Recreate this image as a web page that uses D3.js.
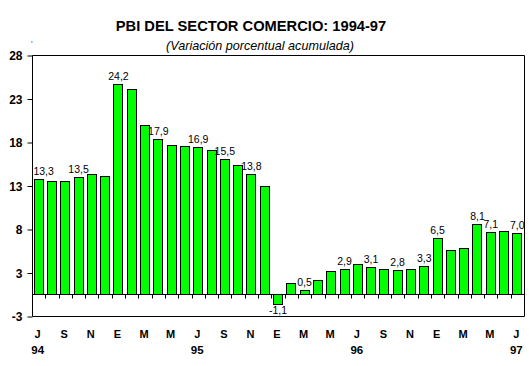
<!DOCTYPE html>
<html>
<head>
<meta charset="utf-8">
<script src="https://cdn.jsdelivr.net/npm/d3@7"></script>
<style>
  html, body { margin: 0; padding: 0; background: #fff; }
  svg { display: block; }
</style>
</head>
<body>
<svg id="chart" width="529" height="366"></svg>
<script>
// ---- data ----
const months = ["J","A","S","O","N","D","E","F","M","A","M","J",
                "J","A","S","O","N","D","E","F","M","A","M","J",
                "J","A","S","O","N","D","E","F","M","A","M","J","J"];
const years = ["94","","","","","","","","","","","",
               "95","","","","","","","","","","","",
               "96","","","","","","","","","","","",
               "97"];
const values = [13.3, 13.0, 13.0, 13.5, 13.8, 13.6,
                24.2, 23.6, 19.5, 17.9, 17.2, 17.0,
                16.9, 16.6, 15.5, 14.9, 13.8, 12.4,
                -1.1, 1.3, 0.5, 1.6, 2.7, 2.9,
                3.5, 3.1, 2.9, 2.8, 2.9, 3.3,
                6.5, 5.1, 5.3, 8.1, 7.1, 7.3, 7.0];
const labeledIdx = [0, 3, 6, 9, 12, 14, 16, 18, 20, 23, 25, 27, 29, 30, 33, 34, 36];
const yTickValues = [-2.5, 2.5, 7.5, 12.5, 17.5, 22.5, 27.5];
const yTickLabels = ["-3", "3", "8", "13", "18", "23", "28"];
const title = "PBI DEL SECTOR COMERCIO: 1994-97";
const subtitle = "(Variación porcentual acumulada)";

// ---- layout ----
const L = 32, R = 524, T = 55, B = 316;
const svg = d3.select("#chart");
const idx = d3.range(values.length);

const x = d3.scaleBand().domain(idx).range([L, R]).paddingInner(0.25).paddingOuter(0.125);
const y = d3.scaleLinear().domain([-2.5, 27.5]).range([B, T]);
const step = x.step();
const x0 = d3.scaleBand().domain(idx).range([L, R]); // full bands for boundaries

// title
svg.append("text").attr("x", 251).attr("y", 31).attr("text-anchor", "middle")
  .attr("font-family", "Liberation Sans, Arial, sans-serif").attr("font-weight", "bold")
  .attr("font-size", 14.7).text(title);
svg.append("text").attr("x", 260).attr("y", 50).attr("text-anchor", "middle")
  .attr("font-family", "Liberation Sans, Arial, sans-serif").attr("font-style", "italic")
  .attr("font-size", 12.6).text(subtitle);
svg.append("text").attr("x", 31).attr("y", 46)
  .attr("font-family", "Liberation Sans, Arial, sans-serif").attr("font-size", 8).text("‘");

// bars
svg.append("g").selectAll("rect").data(idx).join("rect")
  .attr("x", i => Math.round(x(i)) + 0.5)
  .attr("width", Math.round(x.bandwidth()) - 1)
  .attr("y", i => Math.round(y(Math.max(0, values[i]))) + 0.5)
  .attr("height", i => Math.abs(Math.round(y(values[i])) - Math.round(y(0))))
  .attr("fill", "#00ff00").attr("stroke", "#000").attr("stroke-width", 1);

// frame
const y0 = Math.round(y(0)) + 0.5;
const g = svg.append("g").attr("stroke", "#000").attr("stroke-width", 1).attr("fill", "none");
g.append("line").attr("x1", L + 0.5).attr("x2", R + 0.5).attr("y1", T + 0.5).attr("y2", T + 0.5);
g.append("line").attr("x1", R + 0.5).attr("x2", R + 0.5).attr("y1", T + 0.5).attr("y2", B + 0.5);
g.append("line").attr("x1", L + 0.5).attr("x2", R + 0.5).attr("y1", B + 0.5).attr("y2", B + 0.5);
// zero line
g.append("line").attr("x1", L + 0.5).attr("x2", R + 0.5).attr("y1", y0).attr("y2", y0);

// y axis
const yAxis = d3.axisLeft(y).tickValues(yTickValues).tickSize(5).tickPadding(5)
  .tickFormat((d, i) => yTickLabels[i]);
const ya = svg.append("g").attr("transform", `translate(${L + 0.5},0.5)`).call(yAxis);
ya.select(".domain").attr("d", `M0,${T}V${B}`);
ya.selectAll("text").attr("font-family", "Liberation Sans, Arial, sans-serif")
  .attr("font-weight", "bold").attr("font-size", 12).attr("fill", "#000").attr("dy", "0.36em");
ya.selectAll("line").attr("stroke", "#000");
ya.selectAll(".tick line").attr("x2", -5);

// x boundary ticks on zero line
svg.append("g").selectAll("line").data(idx.slice(1)).join("line")
  .attr("x1", i => Math.round(x0(i)) + 0.5).attr("x2", i => Math.round(x0(i)) + 0.5)
  .attr("y1", y0).attr("y2", y0 + 4).attr("stroke", "#000");

// month labels
svg.append("g").selectAll("text").data(idx.filter(i => i % 2 === 0)).join("text")
  .attr("x", i => x(i) + x.bandwidth() / 2 - 1).attr("y", 338).attr("text-anchor", "middle")
  .attr("font-family", "Liberation Sans, Arial, sans-serif").attr("font-weight", "bold")
  .attr("font-size", 11).text(i => months[i]);
// year labels
svg.append("g").selectAll("text").data(idx.filter(i => years[i])).join("text")
  .attr("x", i => x(i) + x.bandwidth() / 2 - 1).attr("y", 354).attr("text-anchor", "middle")
  .attr("font-family", "Liberation Sans, Arial, sans-serif").attr("font-weight", "bold")
  .attr("font-size", 11.5).text(i => years[i]);

// data labels
const fmt = v => d3.format(".1f")(v).replace(".", ",").replace("−", "-");
svg.append("g").selectAll("text").data(labeledIdx).join("text")
  .attr("x", i => x(i) + x.bandwidth() / 2 + (i === 0 ? 5 : 0))
  .attr("y", i => values[i] >= 0 ? y(values[i]) - 4 : y(values[i]) + 10)
  .attr("text-anchor", "middle")
  .attr("font-family", "Liberation Sans, Arial, sans-serif")
  .attr("font-size", 10.5).attr("fill", "#000").text(i => fmt(values[i]));
</script>
</body>
</html>
